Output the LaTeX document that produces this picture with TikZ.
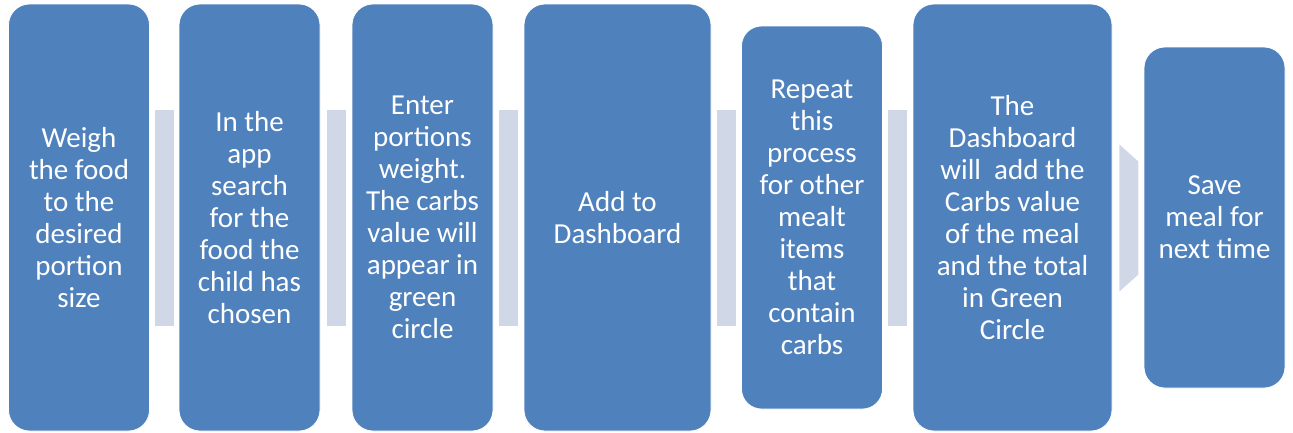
\documentclass[tikz,border=0pt]{standalone}
\usepackage{fontspec}
\setmainfont{Carlito}
\usetikzlibrary{positioning}
\definecolor{stepblue}{RGB}{79,129,189}
\definecolor{gapgrey}{RGB}{208,216,232}
\tikzset{
    % the blue process boxes
    stepbox/.style={
      rectangle,
      rounded corners=21pt,
      fill=stepblue,
      draw=white, line width=0.8pt,
      text=white,
      align=center,
      inner sep=0pt,
      minimum width=141pt,
      minimum height=427pt,
      font=\fontsize{29}{32}\selectfont},
    gap/.style={
      rectangle,
      fill=gapgrey,
      inner sep=0pt,
      minimum width=19pt,
      minimum height=216pt},
}

\begin{document}
\begin{tikzpicture}[x=1pt,y=-1pt]
    \useasboundingbox (0,0) rectangle (1293,432);
    \node (weigh) [stepbox] at (79,217.5)
          {Weigh\\the food\\to the\\desired\\portion\\size};
    \node (search) [stepbox] at (249.5,217.5)
          {In the\\app\\search\\for the\\food the\\child has\\chosen};
    \node (enter) [stepbox] at (422.5,217.5)
          {Enter\\portions\\weight.\\The carbs\\value will\\appear in\\green\\circle};
    \node (add) [stepbox,minimum width=187pt] at (617.5,217.5)
          {Add to\\Dashboard};
    \node (repeat) [stepbox,minimum height=383pt,rounded corners=20pt] at (812,217.5)
          {Repeat\\this\\process\\for other\\mealt\\items\\that\\contain\\carbs};
    \node (total) [stepbox,minimum width=199pt] at (1012.5,217.5)
          {The\\Dashboard\\will\ \ add the\\Carbs value\\of the meal\\and the total\\in Green\\Circle};
    \node (save) [stepbox,minimum height=341pt] at (1214.5,217.5)
          {Save\\meal for\\next time};
    % grey links between the boxes
    \path (weigh.east) -- (search.west) node [gap,midway] (g1) {};
    \path (search.east) -- (enter.west) node [gap,midway] (g2) {};
    \path (enter.east) -- (add.west) node [gap,midway] (g3) {};
    \path (add.east) -- (repeat.west) node [gap,midway] (g4) {};
    \path (repeat.east) -- (total.west) node [gap,midway] (g5) {};
    \fill [gapgrey] ([xshift=7pt,yshift=73pt]total.east)
          -- ([xshift=26pt,yshift=56pt]total.east)
          -- ([xshift=26pt,yshift=-57pt]total.east)
          -- ([xshift=7pt,yshift=-74pt]total.east) -- cycle;
\end{tikzpicture}
\end{document}
